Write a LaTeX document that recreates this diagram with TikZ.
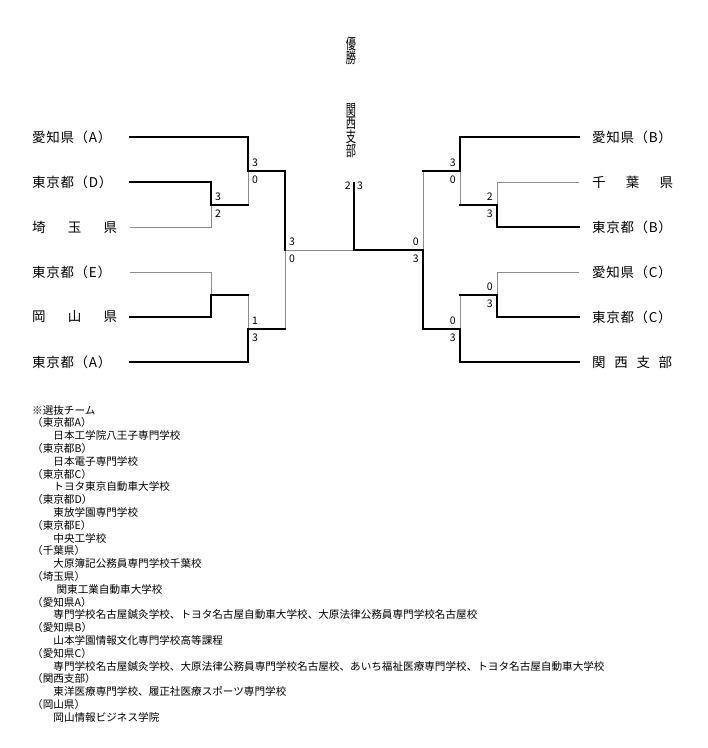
\documentclass[tikz,border=0pt]{standalone}
\usepackage{fontspec}
\setmainfont{Noto Sans CJK JP}
\newfontfamily\teamfont[LetterSpace=5]{Noto Sans CJK JP}
\usetikzlibrary{positioning,calc}
\newcommand{\narrowch}[1]{\scalebox{0.68}[1]{#1}}

\begin{document}
\begin{tikzpicture}[x=1pt,y=-1pt,
    win/.style={line width=2.2pt,black,line cap=rect},
    lose/.style={line width=0.9pt,black!45},
    team/.style={anchor=west,inner sep=0pt,font=\teamfont\fontsize{13.5}{14}\selectfont},
    score/.style={inner sep=0pt,font=\fontsize{10.5}{11}\selectfont},
    note/.style={anchor=north west,inner sep=0pt,align=left,font=\fontsize{10.6}{12.8}\selectfont},
    tate/.style={inner sep=0pt,font=\fontsize{15}{15}\selectfont}]
    \useasboundingbox (0,0) rectangle (708,748);

    % winner on top, written downwards
    \foreach \ch [count=\i] in {優,勝}
      \node[tate] (yusho\i) at (351,30.5+13.7*\i) {\narrowch{\ch}};
    \foreach \ch [count=\i] in {関,西,支,部}
      \node[tate] (champ\i) at (351,96+13.7*\i) {\narrowch{\ch}};

    % left teams
    \node[team] (nAichiA) at (32,137) {愛知県（A）};
    \node[team] (nTokyoD) at (32,182) {東京都（D）};
    \node[team] (nSaitama) at (32,227) {\makebox[85pt][l]{埼\hfill 玉\hfill 県}};
    \node[team] (nTokyoE) at (32,272) {東京都（E）};
    \node[team] (nOkayama) at (32,317) {\makebox[85pt][l]{岡\hfill 山\hfill 県}};
    \node[team] (nTokyoA) at (32,362) {東京都（A）};
    \coordinate (aichiA) at (130,137);
    \coordinate (tokyoD) at (130,182);
    \coordinate (saitama) at (130,227);
    \coordinate (tokyoE) at (130,272);
    \coordinate (okayama) at (130,317);
    \coordinate (tokyoA) at (130,362);

    % right teams
    \node[team] (nAichiB) at (592,137) {愛知県（B）};
    \node[team] (nChiba) at (592,182) {\makebox[81pt][l]{千\hfill 葉\hfill 県}};
    \node[team] (nTokyoB) at (592,227) {東京都（B）};
    \node[team] (nAichiC) at (592,272) {愛知県（C）};
    \node[team] (nTokyoC) at (592,317) {東京都（C）};
    \node[team] (nKansai) at (592,362) {\makebox[80pt][l]{関\hfill 西\hfill 支\hfill 部}};
    \coordinate (aichiB) at (579,137);
    \coordinate (chiba) at (579,182);
    \coordinate (tokyoB) at (579,227);
    \coordinate (aichiC) at (579,272);
    \coordinate (tokyoC) at (579,317);
    \coordinate (kansai) at (579,362);

    % match points
    \coordinate (r1L1) at (211,205);
    \coordinate (r1L2) at (211,295);
    \coordinate (r2L1) at (248,171);
    \coordinate (r2L2) at (248,329);
    \coordinate (sfL) at (285,250);
    \coordinate (fin) at (354,250);
    \coordinate (top) at (354,183);
    \coordinate (sfR) at (423,250);
    \coordinate (r2R1) at (460,171);
    \coordinate (r2R2) at (460,329);
    \coordinate (r1R1) at (497,205);
    \coordinate (r1R2) at (497,295);

    % left half
    \draw[lose] (saitama) -| (r1L1);
    \draw[lose] (tokyoE) -| (r1L2);
    \draw[lose] (r1L1 -| r2L1) -- (r2L1);
    \draw[lose] (r1L2 -| r2L2) -- (r2L2);
    \draw[lose] (sfL) -- (r2L2 -| sfL);
    \draw[lose] (sfL) -- (fin);
    \draw[win] (tokyoD) -| (r1L1) -- (r1L1 -| r2L1);
    \draw[win] (okayama) -| (r1L2) -- (r1L2 -| r2L2);
    \draw[win] (aichiA) -| (r2L1) -- (r2L1 -| sfL) -- (sfL);
    \draw[win] (tokyoA) -| (r2L2) -- (r2L2 -| sfL);

    % right half
    \draw[lose] (chiba) -| (r1R1);
    \draw[lose] (aichiC) -| (r1R2);
    \draw[lose] (r2R1) -- (r1R1 -| r2R1);
    \draw[lose] (r2R2) -- (r1R2 -| r2R2);
    \draw[lose] (sfR) -- (r2R1 -| sfR);
    \draw[win] (tokyoB) -| (r1R1) -- (r1R1 -| r2R1);
    \draw[win] (tokyoC) -| (r1R2) -- (r1R2 -| r2R2);
    \draw[win] (aichiB) -| (r2R1) -- (r2R1 -| sfR);
    \draw[win] (kansai) -| (r2R2) -- (r2R2 -| sfR) -- (sfR);
    \draw[win] (sfR) -- (fin) -- (top);

    % scores
    \node[score,anchor=west] (s1a) at ($(r1L1)+(4,-8)$) {3};
    \node[score,anchor=west] (s1b) at ($(r1L1)+(4,9)$) {2};
    \node[score,anchor=west] (s3a) at ($(r2L1)+(4,-8)$) {3};
    \node[score,anchor=west] (s3b) at ($(r2L1)+(4,9)$) {0};
    \node[score,anchor=west] (s4a) at ($(r2L2)+(4,-8)$) {1};
    \node[score,anchor=west] (s4b) at ($(r2L2)+(4,9)$) {3};
    \node[score,anchor=west] (s5a) at ($(sfL)+(4,-8)$) {3};
    \node[score,anchor=west] (s5b) at ($(sfL)+(4,9)$) {0};
    \node[score,anchor=east] (s6a) at ($(sfR)+(-4,-8)$) {0};
    \node[score,anchor=east] (s6b) at ($(sfR)+(-4,9)$) {3};
    \node[score,anchor=east] (s7a) at ($(r2R1)+(-4,-8)$) {3};
    \node[score,anchor=east] (s7b) at ($(r2R1)+(-4,9)$) {0};
    \node[score,anchor=east] (s8a) at ($(r2R2)+(-4,-8)$) {0};
    \node[score,anchor=east] (s8b) at ($(r2R2)+(-4,9)$) {3};
    \node[score,anchor=east] (s9a) at ($(r1R1)+(-4,-8)$) {2};
    \node[score,anchor=east] (s9b) at ($(r1R1)+(-4,9)$) {3};
    \node[score,anchor=east] (s10a) at ($(r1R2)+(-4,-8)$) {0};
    \node[score,anchor=east] (s10b) at ($(r1R2)+(-4,9)$) {3};
    \node[score,anchor=east] (sFa) at ($(top)+(-3,3)$) {2};
    \node[score,anchor=west] (sFb) at ($(top)+(3,3)$) {3};

    % selection teams
    \node[note] (notes) at (32,405) {※選抜チーム\\
      （東京都A）\\\hspace*{2em}日本工学院八王子専門学校\\
      （東京都B）\\\hspace*{2em}日本電子専門学校\\
      （東京都C）\\\hspace*{2em}トヨタ東京自動車大学校\\
      （東京都D）\\\hspace*{2em}東放学園専門学校\\
      （東京都E）\\\hspace*{2em}中央工学校\\
      （千葉県）\\\hspace*{2em}大原簿記公務員専門学校千葉校\\
      （埼玉県）\\\hspace*{2.3em}関東工業自動車大学校\\
      （愛知県A）\\\hspace*{2em}専門学校名古屋鍼灸学校、トヨタ名古屋自動車大学校、大原法律公務員専門学校名古屋校\\
      （愛知県B）\\\hspace*{2em}山本学園情報文化専門学校高等課程\\
      （愛知県C）\\\hspace*{2em}専門学校名古屋鍼灸学校、大原法律公務員専門学校名古屋校、あいち福祉医療専門学校、トヨタ名古屋自動車大学校\\
      （関西支部）\\\hspace*{2em}東洋医療専門学校、履正社医療スポーツ専門学校\\
      （岡山県）\\\hspace*{2em}岡山情報ビジネス学院};
\end{tikzpicture}
\end{document}
